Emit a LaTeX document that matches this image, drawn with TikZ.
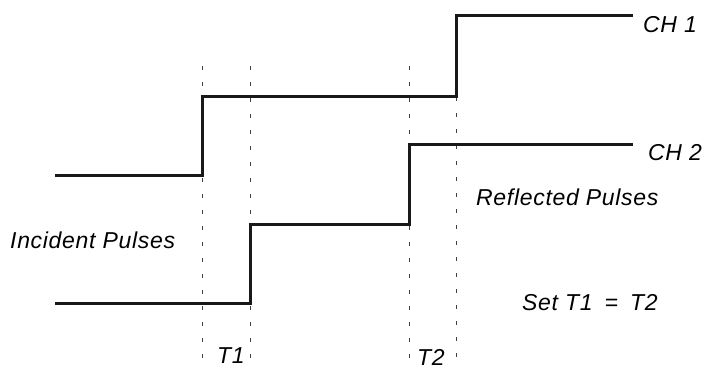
\documentclass[tikz,border=0pt]{standalone}
\usepackage{fontspec}
\setmainfont{Liberation Sans}
\newfontfamily\lblfont[LetterSpace=3]{Liberation Sans}
\usetikzlibrary{positioning}
\tikzset{
  trace/.style={line width=3pt, draw=black!90},
  marker/.style={draw=black!75, line width=0.9pt, dash pattern=on 4pt off 12pt},
  lbl/.style={font=\lblfont\fontsize{23}{26}\selectfont\itshape, inner sep=0pt},
}

\begin{document}
\begin{tikzpicture}[x=1pt,y=-1pt]
  \useasboundingbox (0,0) rectangle (707,369);
  % time markers
  \coordinate (m1) at (202,66);  \coordinate (m1b) at (202,369);
  \coordinate (m2) at (250,66);  \coordinate (m2b) at (250,369);
  \coordinate (m3) at (409,66);  \coordinate (m3b) at (409,369);
  \coordinate (m4) at (456,97);  \coordinate (m4b) at (456,369);
  \draw[marker] (m1) -- (m1b);
  \draw[marker] (m2) -- (m2b);
  \draw[marker] (m3) -- (m3b);
  \draw[marker] (m4) -- (m4b);
  % CH 1
  \coordinate (ch1a) at (55,175);
  \coordinate (ch1b) at (202,96);
  \coordinate (ch1c) at (456,16);
  \coordinate (ch1d) at (633,16);
  \draw[trace] (ch1a) -| (ch1b) -| (ch1c) -- (ch1d);
  % CH 2
  \coordinate (ch2a) at (55,303);
  \coordinate (ch2b) at (250,224);
  \coordinate (ch2c) at (409,144);
  \coordinate (ch2d) at (633,144);
  \draw[trace] (ch2a) -| (ch2b) -| (ch2c) -- (ch2d);
  % labels
  \node[lbl, anchor=west] (ch1)  at (643,25)  {CH 1};
  \node[lbl, anchor=west] (ch2)  at (648,153) {CH 2};
  \node[lbl, anchor=west] (refl) at (476,197) {Reflected Pulses};
  \node[lbl, anchor=west] (inc)  at (10,240)  {Incident Pulses};
  \node[lbl, anchor=west] (set)  at (522,303) {Set T1\hspace{12pt}=\hspace{12pt}T2};
  \node[lbl] (t1) at (231,356) {T1};
  \node[lbl] (t2) at (431,357) {T2};
\end{tikzpicture}
\end{document}
